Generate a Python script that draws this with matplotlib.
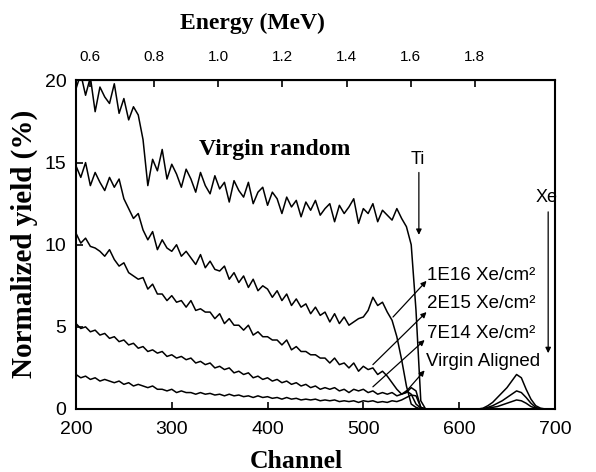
import numpy as np
import matplotlib.pyplot as plt
from matplotlib.ticker import FormatStrFormatter

# RBS spectra (channel step 5)
channel = np.arange(200, 701, 5)

virgin_random = [
    19.5, 20.4, 19.1, 20.2, 18.1, 19.6, 19.0, 18.6, 19.8, 18.0,
    18.9, 17.6, 18.4, 17.9, 16.4, 13.6, 15.2, 14.5, 15.8, 14.0,
    14.9, 14.3, 13.5, 14.6, 14.0, 13.2, 14.4, 13.6, 13.1, 14.2,
    13.4, 13.8, 12.6, 13.9, 13.3, 12.9, 13.8, 12.5, 13.2, 13.5,
    12.4, 13.2, 12.8, 11.9, 12.9, 12.3, 12.7, 11.7, 12.6, 12.1,
    12.7, 11.8, 12.2, 12.5, 11.4, 12.4, 11.9, 12.3, 12.8, 11.3,
    12.2, 11.9, 12.5, 11.4, 12.1, 11.8, 11.5, 12.2, 11.6, 11.1,
    10.0, 6.0, 0.5, 0, 0, 0, 0, 0, 0, 0,
    0, 0, 0, 0, 0, 0, 0, 0, 0, 0,
    0, 0, 0, 0, 0, 0, 0, 0, 0, 0,
    0,
]

dose_1e16 = [
    14.8, 14.1, 15.0, 13.6, 14.4, 13.8, 13.3, 14.1, 13.5, 14.0,
    12.8, 12.2, 11.6, 11.9, 10.9, 10.3, 10.8, 9.7, 10.3, 9.8,
    9.6, 10.0, 9.3, 9.6, 9.2, 8.8, 9.4, 8.6, 9.0, 8.5,
    8.4, 8.7, 7.9, 8.3, 7.7, 8.1, 7.4, 7.9, 7.2, 7.5,
    7.3, 6.8, 7.2, 6.6, 7.0, 6.3, 6.7, 6.2, 6.4, 5.8,
    6.2, 5.7, 5.9, 5.3, 5.8, 5.2, 5.6, 5.1, 5.3, 5.5,
    5.6, 6.0, 6.8, 6.3, 6.5, 5.9, 5.4, 4.4, 3.0, 1.4,
    0.3, 0.1, 0, 0, 0, 0, 0, 0, 0, 0,
    0, 0, 0, 0, 0, 0.05, 0.2, 0.4, 0.7, 1.0,
    1.3, 1.7, 2.1, 1.9, 1.2, 0.6, 0.2, 0.05, 0, 0,
    0,
]

dose_2e15 = [
    10.7, 10.1, 10.4, 9.9, 9.8, 9.6, 9.3, 9.7, 9.1, 8.7,
    8.9, 8.3, 8.1, 7.9, 8.0, 7.3, 7.6, 7.0, 7.0, 6.6,
    6.9, 6.5, 6.6, 6.2, 6.6, 6.0, 6.1, 5.9, 5.9, 5.5,
    5.8, 5.2, 5.5, 5.1, 5.1, 4.8, 5.1, 4.5, 4.7, 4.4,
    4.4, 4.2, 4.2, 3.9, 4.2, 3.6, 3.8, 3.5, 3.5, 3.3,
    3.3, 3.1, 3.1, 2.8, 3.1, 2.7, 2.8, 2.5, 2.8, 2.3,
    2.6, 2.4, 2.5, 2.1, 2.3, 2.0, 1.6, 1.2, 0.9, 1.1,
    0.9, 0.3, 0.05, 0, 0, 0, 0, 0, 0, 0,
    0, 0, 0, 0, 0, 0, 0.1, 0.2, 0.35, 0.5,
    0.7, 0.9, 1.1, 1.0, 0.7, 0.35, 0.1, 0, 0, 0,
    0,
]

dose_7e14 = [
    5.2, 4.9, 5.0, 4.7, 4.8, 4.5, 4.6, 4.3, 4.4, 4.1,
    4.2, 3.9, 4.0, 3.7, 3.8, 3.5, 3.6, 3.4, 3.5, 3.2,
    3.3, 3.1, 3.2, 3.0, 3.1, 2.8, 2.9, 2.7, 2.8, 2.5,
    2.6, 2.4, 2.5, 2.2, 2.3, 2.1, 2.2, 1.9, 2.0, 1.8,
    1.9, 1.7, 1.8, 1.6, 1.7, 1.5, 1.6, 1.4, 1.5, 1.3,
    1.4, 1.2, 1.3, 1.2, 1.3, 1.1, 1.2, 1.0, 1.2, 1.1,
    1.2, 1.0, 1.1, 0.9, 1.0, 0.9, 1.0, 0.8, 0.9, 1.0,
    1.3, 1.1, 0.1, 0, 0, 0, 0, 0, 0, 0,
    0, 0, 0, 0, 0, 0, 0.05, 0.1, 0.15, 0.25,
    0.35, 0.45, 0.55, 0.5, 0.35, 0.15, 0.05, 0, 0, 0,
    0,
]

virgin_aligned = [
    2.1, 1.9, 2.0, 1.8, 1.9, 1.7, 1.8, 1.7, 1.6, 1.7,
    1.5, 1.6, 1.4, 1.5, 1.4, 1.3, 1.4, 1.2, 1.2, 1.1,
    1.2, 1.0, 1.1, 1.0, 1.0, 0.9, 1.0, 0.9, 0.95, 0.85,
    0.9, 0.8, 0.9, 0.8, 0.85, 0.75, 0.8, 0.7, 0.8, 0.7,
    0.75, 0.65, 0.7, 0.6, 0.7, 0.6, 0.65, 0.55, 0.6, 0.55,
    0.6, 0.5, 0.55, 0.5, 0.55, 0.45, 0.5, 0.45, 0.5, 0.4,
    0.5, 0.45, 0.5, 0.4, 0.45, 0.4, 0.5, 0.45, 0.55, 0.7,
    0.85, 0.8, 0.1, 0, 0, 0, 0, 0, 0, 0,
    0, 0, 0, 0, 0, 0, 0, 0, 0, 0,
    0, 0, 0, 0, 0, 0, 0, 0, 0, 0,
    0,
]

series = [virgin_random, dose_1e16, dose_2e15, dose_7e14, virgin_aligned]

energy_ticks = [0.6, 0.8, 1.0, 1.2, 1.4, 1.6, 1.8]

# text label, (channel, yield) of text, leader line start, leader line end
labels = [
    ("1E16 Xe/cm²", (567, 8.1), (531, 5.6), (566, 7.8)),
    ("2E15 Xe/cm²", (567, 6.4), (510, 2.7), (566, 5.9)),
    ("7E14 Xe/cm²", (567, 4.6), (510, 1.35), (564, 4.2)),
    ("Virgin Aligned", (565, 2.9), (543, 0.95), (564, 2.35)),
]


def to_energy(ch):
    return 0.8 + (ch - 281.4) * 0.002984


def to_channel(e):
    return 281.4 + (e - 0.8) / 0.002984


sans = "Liberation Sans"
serif = "Liberation Serif"

fig = plt.figure(figsize=(5.96, 4.72), dpi=100)
ax = fig.add_axes([0.1275, 0.1335, 0.8035, 0.696])

for ys in series:
    ax.plot(channel, ys, color="black", lw=1.1)

ax.set_xlim(200, 700)
ax.set_ylim(0, 20)
ax.set_xticks([200, 300, 400, 500, 600, 700])
ax.set_yticks([0, 5, 10, 15, 20])
ax.tick_params(direction="in", length=5, width=1.2, top=False, right=False)
ax.tick_params(axis="x", labelsize=14, pad=9)
ax.tick_params(axis="y", labelsize=14, pad=7)
for lab in ax.get_xticklabels() + ax.get_yticklabels():
    lab.set_family(sans)
for sp in ax.spines.values():
    sp.set_linewidth(1.5)

secax = ax.secondary_xaxis("top", functions=(to_energy, to_channel))
secax.set_xticks(energy_ticks)
secax.xaxis.set_major_formatter(FormatStrFormatter("%.1f"))
secax.tick_params(direction="in", length=5, width=1.2, labelsize=11, pad=12)
for lab in secax.get_xticklabels():
    lab.set_family(sans)

ax.text(407, 15.8, "Virgin random", family=serif, fontweight="bold",
        fontsize=17, ha="center", va="center")

for text, pos, start, end in labels:
    ax.annotate("", xy=end, xytext=start,
                arrowprops=dict(arrowstyle="-|>", lw=0.9, color="black",
                                mutation_scale=8, shrinkA=0, shrinkB=0))
    ax.text(pos[0], pos[1], text, family=sans, fontsize=13.5,
            ha="left", va="center")

ax.annotate("", xy=(558, 10.6), xytext=(558, 14.4),
            arrowprops=dict(arrowstyle="-|>", lw=0.9, color="black",
                            mutation_scale=8, shrinkA=0, shrinkB=0))
ax.text(557, 15.2, "Ti", family=sans, fontsize=13, ha="center", va="center")

ax.annotate("", xy=(693, 3.4), xytext=(693, 12.0),
            arrowprops=dict(arrowstyle="-|>", lw=0.9, color="black",
                            mutation_scale=8, shrinkA=0, shrinkB=0))
ax.text(691, 12.85, "Xe", family=sans, fontsize=13, ha="center", va="center")

fig.text(252.5 / 596, 1 - 23 / 472, "Energy (MeV)", family=serif,
         fontweight="bold", fontsize=17, ha="center", va="center")
fig.text(296 / 596, 1 - 461 / 472, "Channel", family=serif,
         fontweight="bold", fontsize=18.5, ha="center", va="center")
fig.text(24 / 596, 1 - 243.5 / 472, "Normalized yield (%)", family=serif,
         fontweight="bold", fontsize=21, rotation=90, ha="center", va="center")

fig.savefig("out.png", dpi=100)
